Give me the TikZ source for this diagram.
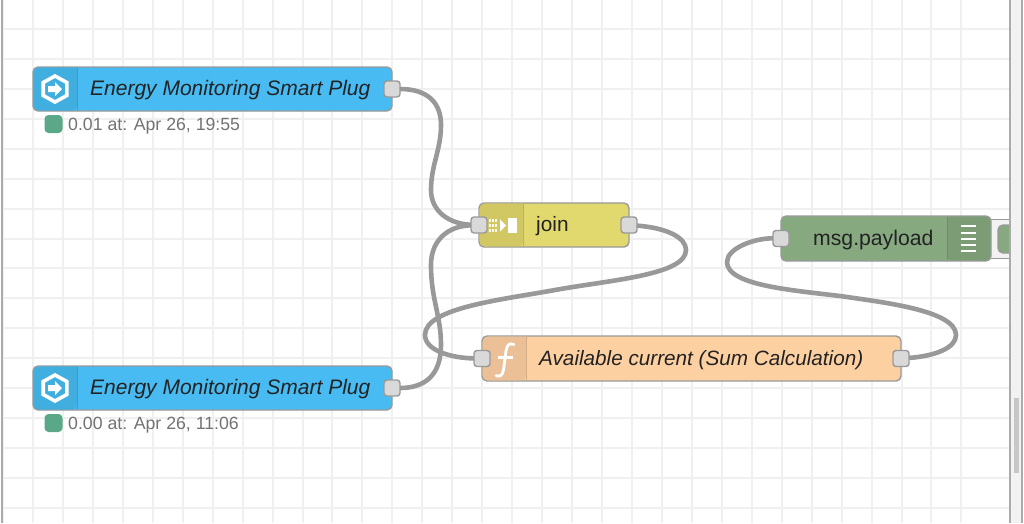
\documentclass[tikz,border=0pt]{standalone}
\usepackage{fontspec}
\setmainfont{Liberation Sans}
\definecolor{gridc}{HTML}{F0F0F0}
\definecolor{edgec}{HTML}{999999}
\definecolor{plugc}{HTML}{47BBF2}
\definecolor{plugd}{HTML}{41AEE0}
\definecolor{joinc}{HTML}{E2D96E}
\definecolor{joind}{HTML}{D1C863}
\definecolor{fnc}{HTML}{FDD0A2}
\definecolor{fnd}{HTML}{EBC097}
\definecolor{msgc}{HTML}{87A980}
\definecolor{msgd}{HTML}{7C9C76}
\definecolor{statc}{HTML}{5AA888}
\definecolor{txtc}{HTML}{222222}
\tikzset{
  x=1pt,y=-1pt,
  flownode/.style={draw=edgec,line width=1.4pt,rounded corners=5pt,inner sep=0pt,outer sep=0pt},
  headsplit/.style={line width=1pt},
  port/.style={draw=edgec,fill=black!15,line width=1.4pt,rounded corners=3pt,minimum width=16pt,minimum height=16pt,inner sep=0pt,outer sep=0pt},
  wire/.style={draw=edgec,line width=4.6pt},
  label/.style={text=txtc,inner sep=0pt,anchor=west},
  stat/.style={fill=statc,rounded corners=4pt,minimum width=18pt,minimum height=18pt,inner sep=0pt},
  stattext/.style={text=black!55,inner sep=0pt,anchor=west,font=\fontsize{17.7}{20}\selectfont},
  hexicon/.pic={
    \draw[white,line width=3.6pt,line join=miter] (0,-13) -- (11.8,-6.5) -- (11.8,6.5) -- (0,13) -- (-11.8,6.5) -- (-11.8,-6.5) -- cycle;
    \fill[white] (-7,-3) -- (0,-3) -- (0,-7) -- (7,0) -- (0,7) -- (0,3) -- (-7,3) -- cycle;
  }
}
\begin{document}
\begin{tikzpicture}
\useasboundingbox (0,0) rectangle (1024,523);
\fill[white] (0,0) rectangle (1024,523);
% grid
\foreach \k in {0,...,32} \draw[gridc,line width=2pt] ({33+29.95*\k-30},0) -- ({33+29.95*\k-30},523);
\foreach \k in {0,...,16} \draw[gridc,line width=2pt] (3,{29+29.93*\k}) -- (1010,{29+29.93*\k});
% window edges
\fill[black!33] (1,0) rectangle (3,523);
\fill[white] (0,0) rectangle (1,523);
\fill[gray!10] (1010,0) rectangle (1022,523);
\fill[black!33] (1009,0) rectangle (1011,523);
\fill[black!33] (1021,0) rectangle (1023,523);
\fill[white] (1023,0) rectangle (1024,523);
\fill[black!22] (1013.5,398) rectangle (1018.5,473);
% clipped neighbour node
\fill[gray!10] (991,219) rectangle (1009,258);
\draw[edgec,line width=1pt] (991,219) -- (1009,219) (991,258) -- (1009,258);
\begin{scope}
\clip (991,200) rectangle (1009,270);
\node[flownode,fill=msgc,minimum width=30pt,minimum height=28pt] (nextnode) at (1013,239) {};
\end{scope}
% node bodies
\node[flownode,fill=plugc,minimum width=359pt,minimum height=44pt] (plugA) at (212.5,89) {};
\node[flownode,fill=plugc,minimum width=359pt,minimum height=44pt] (plugB) at (212.5,388) {};
\node[flownode,fill=joinc,minimum width=150pt,minimum height=44pt] (joinN) at (554,225) {};
\node[flownode,fill=fnc,minimum width=419pt,minimum height=45pt] (fnN) at (691.5,358.5) {};
\node[flownode,fill=msgc,minimum width=210pt,minimum height=45pt] (msgN) at (886,238.5) {};
% icon panels
\fill[plugd,rounded corners=4.5pt] (77,67.7) -- (33.7,67.7) -- (33.7,110.3) -- (77,110.3) [sharp corners] -- cycle;
\fill[plugd,rounded corners=4.5pt] (77,366.7) -- (33.7,366.7) -- (33.7,409.3) -- (77,409.3) [sharp corners] -- cycle;
\fill[joind,rounded corners=4.5pt] (523,203.7) -- (479.7,203.7) -- (479.7,246.3) -- (523,246.3) [sharp corners] -- cycle;
\fill[fnd,rounded corners=4.5pt] (526,336.7) -- (482.7,336.7) -- (482.7,380.3) -- (526,380.3) [sharp corners] -- cycle;
\fill[msgd,rounded corners=4.5pt] (947,216.7) -- (990.3,216.7) -- (990.3,260.3) -- (947,260.3) [sharp corners] -- cycle;
\draw[plugd!90!black,headsplit] (77,67.7) -- (77,110.3) (77,366.7) -- (77,409.3);
\draw[joind!90!black,headsplit] (523,203.7) -- (523,246.3);
\draw[fnd!90!black,headsplit] (526,336.7) -- (526,380.3);
\draw[msgd!90!black,headsplit] (947,216.7) -- (947,260.3);
% icons
\pic at (55,89) {hexicon};
\pic at (55,388) {hexicon};
\foreach \i in {0,1,2} \foreach \j in {0,1,2} \fill[white,opacity=.9] ({488.5+3.4*\i},{218.5+5*\j}) rectangle ++(2,3.2);
\fill[white] (500,219.5) -- (506,225.5) -- (500,231.5) -- cycle;
\fill[white] (508,218) rectangle (517,233);
\draw[white,line width=2.8pt,line cap=round] (514,344.5) .. controls (509,342.5) and (507,345) .. (506,351) -- (503.5,370) .. controls (502.5,376) and (499,377) .. (496,375.5);
\draw[white,line width=2.2pt] (498,357.5) -- (513,357.5);
\foreach \j in {0,...,4} \fill[white] (961,{225.2+6.3*\j}) rectangle ++(15,2);
% labels
\node[label,font=\itshape\fontsize{21}{24}\selectfont] (plugAt) at (90,90.5) {Energy Monitoring Smart Plug};
\node[label,font=\itshape\fontsize{21}{24}\selectfont] (plugBt) at (90,389.5) {Energy Monitoring Smart Plug};
\node[label,font=\fontsize{20.8}{24}\selectfont] (joint) at (536,226.5) {join};
\node[label,font=\itshape\fontsize{20.7}{24}\selectfont] (fnt) at (539,360) {Available current (Sum Calculation)};
\node[label,font=\fontsize{21.2}{24}\selectfont] (msgt) at (813,240) {msg.payload};
% status
\node[stat] (stA) at (53.5,124) {};
\node[stat] (stB) at (53.5,423) {};
\node[stattext] (stAt) at (68,126) {0.01 at: Apr 26, 19:55};
\node[stattext] (stBt) at (68,425) {0.00 at: Apr 26, 11:06};
% ports
\node[port] (pA) at (plugA.east) {};
\node[port] (pB) at (plugB.east) {};
\node[port] (pJi) at (joinN.west) {};
\node[port] (pJo) at (joinN.east) {};
\node[port] (pFi) at (fnN.west) {};
\node[port] (pFo) at (fnN.east) {};
\node[port] (pMi) at (msgN.west) {};
% wires
\draw[wire] (pA) .. controls (428,89) and (441,103) .. (441,125) .. controls (441,150) and (431,165) .. (431,190) .. controls (431,212) and (450,224) .. (pJi);
\draw[wire] (pB) .. controls (425,388) and (441,375) .. (441,345) .. controls (441,315) and (431,300) .. (431,265) .. controls (431,240) and (448,226) .. (pJi);
\draw[wire] (pJo) .. controls (668,228) and (686,238) .. (686,250) .. controls (686,275) and (610,280) .. (555,290) .. controls (500,300) and (425,308) .. (425,335) .. controls (425,350) and (450,358) .. (pFi);
\draw[wire] (pFo) .. controls (935,356) and (956,348) .. (956,335) .. controls (956,310) and (880,302) .. (840,296) .. controls (790,290) and (727,285) .. (727,262) .. controls (727,248) and (755,238) .. (pMi);
\end{tikzpicture}
\end{document}
